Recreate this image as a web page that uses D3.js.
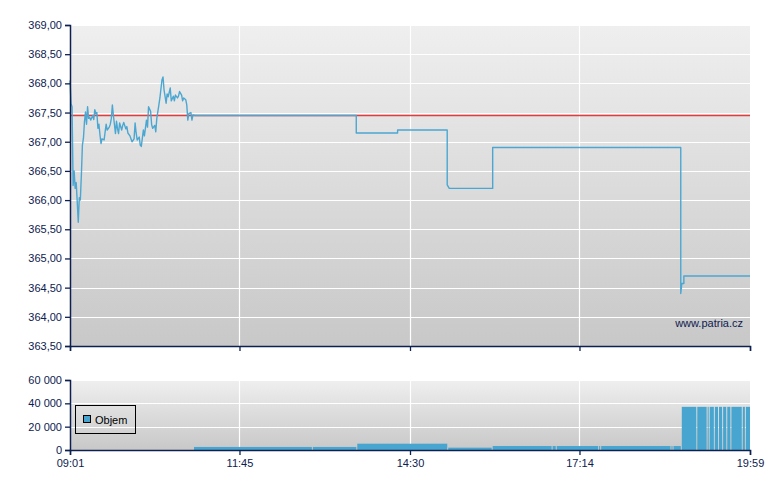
<!DOCTYPE html>
<html><head><meta charset="utf-8">
<script src="https://cdn.jsdelivr.net/npm/d3@7"></script>
<style>
html,body{margin:0;padding:0;background:#fff;}
svg{display:block;font-family:"Liberation Sans",Arial,sans-serif;}
</style></head>
<body>
<svg id="c" width="780" height="490"></svg>
<script>
// ---- data ----
const priceTimes = ["09:01","09:02","09:03","09:04","09:05","09:06","09:07","09:08","09:09","09:10",
"09:11","09:12","09:13","09:14","09:15","09:16","09:17","09:18","09:19","09:20",
"09:21","09:23","09:24","09:25","09:26","09:27","09:28","09:29","09:30","09:31",
"09:32","09:34","09:35","09:36","09:37","09:39","09:40","09:41","09:42","09:43",
"09:45","09:46","09:47","09:48","09:49","09:51","09:52","09:53","09:55","09:56",
"09:57","09:59","10:00","10:01","10:03","10:04","10:05","10:06","10:08","10:09",
"10:10","10:12","10:13","10:15","10:16","10:17","10:19","10:20","10:21","10:23",
"10:24","10:25","10:27","10:28","10:30","10:31","10:32","10:34","10:35","10:36",
"10:38","10:39","10:41","10:42","10:43","10:45","10:46","10:47","10:49","10:50",
"10:51","10:53","10:54","10:55","10:56","10:58","10:59","11:00","11:02",
"13:38","13:38","14:18","14:18","15:06","15:06","15:08","15:50","15:50",
"18:52","18:52","18:53","18:55","18:55","19:59"];
const priceValues = [368.05,367.65,367.60,366.25,366.50,366.20,366.30,365.97,365.62,366.04,
366.00,366.43,366.94,367.06,367.34,367.51,367.30,367.60,367.40,367.42,
367.37,367.45,367.38,367.55,367.48,367.50,367.23,367.30,367.12,366.97,
367.05,367.03,367.17,367.30,367.20,367.25,367.30,367.40,367.63,367.45,
367.14,367.35,367.22,367.14,367.32,367.20,367.28,367.33,367.22,367.26,
367.15,367.10,367.05,367.00,367.05,367.32,367.15,367.03,367.08,366.94,
366.92,367.20,367.10,367.37,367.25,367.60,367.52,367.29,367.23,367.28,
367.17,367.40,367.63,367.75,368.06,368.11,367.89,367.66,367.82,367.77,
367.92,367.70,367.78,367.70,367.80,367.75,367.78,367.86,367.80,367.70,
367.75,367.72,367.63,367.37,367.48,367.50,367.37,367.46,367.45,
367.45,367.15,367.15,367.20,367.20,366.26,366.20,366.20,366.90,
366.90,364.40,364.57,364.57,364.70,364.70];
const refPrice = 367.45;

const volStarts = ["11:01","12:56","13:39","15:07","15:50","16:48","16:52","17:33","17:35","18:43","18:45",
"18:53","19:08","19:18","19:20","19:25","19:29","19:33","19:37","19:41","19:52","19:55"];
const volValues = [2600,2600,5400,2000,3400,3400,3400,3400,3400,3400,3400,
37000,37000,37000,37000,37000,37000,37000,37000,37000,37000,37000];
const volEnd = "19:59";

const priceTicks = [363.5,364,364.5,365,365.5,366,366.5,367,367.5,368,368.5,369];
const volTicks = [0,20000,40000,60000];
const timeTicks = ["09:01","11:45","14:30","17:14","19:59"];
const legendLabel = "Objem";
const watermark = "www.patria.cz";

// ---- helpers ----
const parseT = s => { const [h,m] = s.split(":").map(Number); return new Date(2020,0,1,h,m); };
const AX = "#0d2150", BLUE = "#4ba7d1";

const svg = d3.select("#c");
const x = d3.scaleTime().domain([parseT("09:01"), parseT("19:59")]).range([70,750]);
const y = d3.scaleLinear().domain([363.5,369]).range([346,25]);
const yv = d3.scaleLinear().domain([0,60000]).range([450,380]);

const defs = svg.append("defs");
const g = defs.append("linearGradient").attr("id","bg").attr("x1",0).attr("y1",0).attr("x2",0).attr("y2",1);
g.append("stop").attr("offset","0%").attr("stop-color","#efefef");
g.append("stop").attr("offset","100%").attr("stop-color","#c8c8c8");

function panel(ys, ticks){
  const [y0,y1] = ys.range();
  svg.append("rect").attr("x",70).attr("y",y1).attr("width",680).attr("height",y0-y1).attr("fill","url(#bg)");
  const grid = svg.append("g");
  grid.selectAll(".h").data(ticks).join("line")
    .attr("x1",70).attr("x2",750).attr("y1",d=>Math.round(ys(d))+0.5).attr("y2",d=>Math.round(ys(d))+0.5)
    .attr("stroke","#fff").attr("stroke-width",1.2);
  grid.selectAll(".v").data(timeTicks.slice(1,-1)).join("line")
    .attr("x1",d=>Math.round(x(parseT(d)))+0.5).attr("x2",d=>Math.round(x(parseT(d)))+0.5)
    .attr("y1",y1).attr("y2",y0).attr("stroke","#fff").attr("stroke-width",1.2);
}
panel(y, priceTicks);
panel(yv, volTicks);

// reference line
svg.append("line").attr("x1",70).attr("x2",750).attr("y1",y(refPrice)).attr("y2",y(refPrice))
  .attr("stroke","#e43c3c").attr("stroke-width",1.4);

// price line
const pdata = priceTimes.map((t,i)=>({t:parseT(t), v:priceValues[i]}));
svg.append("path").datum(pdata)
  .attr("d", d3.line().x(d=>x(d.t)).y(d=>y(d.v)))
  .attr("fill","none").attr("stroke",BLUE).attr("stroke-width",1.4).attr("stroke-linejoin","round");

// volume bars
const vb = volStarts.map((t,i)=>({s:parseT(t), e:parseT(i<volStarts.length-1?volStarts[i+1]:volEnd), v:volValues[i], last:i===volStarts.length-1}));
svg.append("g").selectAll("rect").data(vb).join("rect")
  .attr("x",d=>x(d.s)).attr("width",d=>Math.max(0.5, x(d.e)-x(d.s)-(d.last?0:1)))
  .attr("y",d=>yv(d.v)).attr("height",d=>yv(0)-yv(d.v)).attr("fill","#47a5cf");

// axes
function yAxis(ys, ticks, fmt){
  const a = svg.append("g").attr("transform","translate(70,0)")
    .call(d3.axisLeft(ys).tickValues(ticks).tickSize(5).tickPadding(3).tickFormat(fmt));
  a.select(".domain").attr("stroke",AX).attr("stroke-width",1.5);
  a.selectAll(".tick line").attr("stroke",AX).attr("stroke-width",1.3);
  a.selectAll("text").attr("fill",AX).attr("font-size",11).attr("font-family","Liberation Sans, Arial, sans-serif");
}
const pf = d => d.toFixed(2).replace(".",",");
const vf = d => d3.format(",")(d).replace(/,/g," ");
yAxis(y, priceTicks, pf);
yAxis(yv, volTicks, vf);

function xAxis(ypos, labels){
  const a = svg.append("g").attr("transform",`translate(0,${ypos})`)
    .call(d3.axisBottom(x).tickValues(timeTicks.map(parseT)).tickSize(5).tickPadding(4)
      .tickFormat((d,i)=> labels ? timeTicks[i] : ""));
  a.select(".domain").attr("stroke",AX).attr("stroke-width",1.5);
  a.selectAll(".tick line").attr("stroke",AX).attr("stroke-width",1.3);
  a.selectAll("text").attr("fill",AX).attr("font-size",11).attr("font-family","Liberation Sans, Arial, sans-serif");
}
xAxis(346, false);
xAxis(450, true);

// legend
const lg = svg.append("g");
lg.append("rect").attr("x",75.5).attr("y",405.5).attr("width",60).attr("height",28).attr("fill","none").attr("stroke","#000");
lg.append("rect").attr("x",83.5).attr("y",415.5).attr("width",7).attr("height",7).attr("fill","#47a5cf").attr("stroke","#000");
lg.append("text").attr("x",95).attr("y",423.5).attr("font-size",11).attr("fill","#000").text(legendLabel);

// watermark
svg.append("text").attr("x",743).attr("y",327).attr("text-anchor","end").attr("font-size",11)
  .attr("fill",AX).text(watermark);
</script>
</body></html>
